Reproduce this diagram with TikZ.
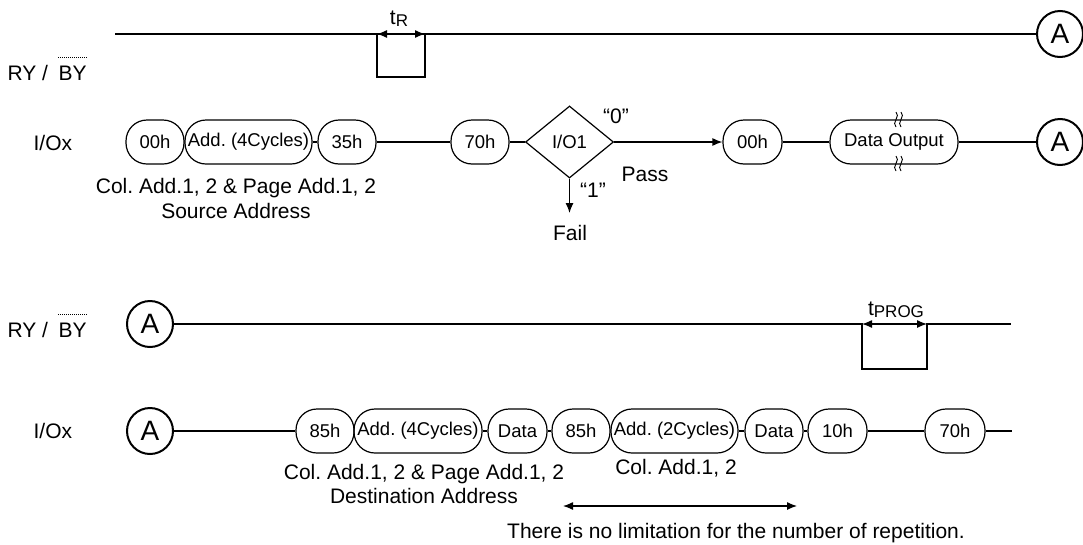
\documentclass[tikz,border=0pt]{standalone}
\usepackage{fontspec}
\setmainfont{Liberation Sans}
\usetikzlibrary{arrows.meta,shapes.geometric,positioning}
\frenchspacing

\tikzset{
  pill/.style={draw, rounded corners=21pt, minimum height=44pt, inner sep=0pt, font=\fontsize{18.5}{20}\selectfont},
  conn/.style={draw, circle, line width=2pt, minimum size=46pt, inner sep=0pt, font=\fontsize{28}{28}\selectfont},
  lbl/.style={inner sep=0pt, font=\fontsize{21}{25}\selectfont},
}

\begin{document}
\begin{tikzpicture}[x=1pt, y=-1pt, line width=1.2pt, >={Latex[length=10pt,width=8pt]}]
    \useasboundingbox (0,0) rectangle (1083,544);
    % signal names
    \node[lbl, anchor=west] (ry1) at (7,73) {RY /};
    \node[lbl, anchor=west] (by1) at (58,73) {BY};
    \draw[line width=0.6pt, dash pattern=on 1.2pt off 0.8pt] ([yshift=8pt]by1.north west) -- ([yshift=8pt]by1.north east);
    \node[lbl, anchor=west] (io1) at (33,143) {I/Ox};
    \node[lbl, anchor=west] (ry2) at (7,330) {RY /};
    \node[lbl, anchor=west] (by2) at (58,330) {BY};
    \draw[line width=0.6pt, dash pattern=on 1.2pt off 0.8pt] ([yshift=8pt]by2.north west) -- ([yshift=8pt]by2.north east);
    \node[lbl, anchor=west] (io2) at (33,431) {I/Ox};

    % RY/BY, read
    \node[conn] (A0) at (1060,34) {A};
    \coordinate (rb0) at (115,34);
    \coordinate (tra) at (377,34);
    \coordinate (trb) at (425,34);
    \draw (rb0) -- (A0);
    \draw (tra) -- ++(0,43) -| (trb);
    \draw[<->] (tra) -- (trb);
    \node[lbl] (tr) at (399,19) {t{\fontsize{17}{17}\selectfont\raisebox{-2pt}{R}}};

    % I/Ox, read
    \node[pill, minimum width=58pt] (c00) at (155,142) {00h};
    \node[pill, minimum width=127pt] (add4a) at (248.5,142) {Add. (4Cycles)};
    \node[pill, minimum width=58pt] (h35) at (347,142) {35h};
    \node[pill, minimum width=58pt] (h70a) at (480,142) {70h};
    \node[draw, diamond, minimum width=88pt, minimum height=72pt, inner sep=0pt, font=\fontsize{18.5}{20}\selectfont] (dia) at (569.5,142) {I/O1};
    \node[pill, minimum width=59pt] (c00b) at (752.5,142) {00h};
    \node[pill, minimum width=128pt] (dout) at (894,142) {Data Output};
    \node[conn] (A1) at (1060,142) {A};
    \draw (add4a) -- (h35) -- (h70a) -- (dia);
    \draw[->] (dia) -- (c00b);
    \draw (c00b) -- (dout) -- (A1);
    \coordinate (failtip) at (569.5,213);
    \draw[->] (dia.south) -- (failtip);
    \node[lbl] (q0) at (616,116) {“0”};
    \node[lbl] (pass) at (645,174) {Pass};
    \node[lbl] (q1) at (593,190) {“1”};
    \node[lbl] (fail) at (570,233) {Fail};
    \foreach \sx in {896,901} \foreach \sy in {112,156}
        \draw[line width=0.9pt] (\sx,\sy) .. controls (\sx+5,\sy+4) and (\sx-5,\sy+11) .. (\sx,\sy+15);
    \node[lbl, align=center] (src) at (236,198) {Col. Add.1, 2 \& Page Add.1, 2\\Source Address};

    % RY/BY, program
    \node[conn] (A2) at (150,324) {A};
    \coordinate (tpa) at (862,324);
    \coordinate (tpb) at (927,324);
    \coordinate (rb3) at (1011,324);
    \draw (A2) -- (tpa) -- ++(0,45) -| (tpb) -- (rb3);
    \draw[<->] (tpa) -- (tpb);
    \node[lbl] (tprog) at (896,310) {t{\fontsize{17}{17}\selectfont\raisebox{-2pt}{PROG}}};

    % I/Ox, program
    \node[conn] (A3) at (150,431) {A};
    \node[pill, minimum width=58pt] (b85a) at (325,431) {85h};
    \node[pill, minimum width=128pt] (badd4) at (418,431) {Add. (4Cycles)};
    \node[pill, minimum width=59pt] (bdat1) at (517.5,431) {Data};
    \node[pill, minimum width=58pt] (b85b) at (581,431) {85h};
    \node[pill, minimum width=127pt] (badd2) at (674.5,431) {Add. (2Cycles)};
    \node[pill, minimum width=58pt] (bdat2) at (774,431) {Data};
    \node[pill, minimum width=59pt] (b10) at (837.5,431) {10h};
    \node[pill, minimum width=60pt] (b70) at (955,431) {70h};
    \coordinate (io3) at (1012,431);
    \draw (A3) -- (b85a);
    \draw (badd4) -- (bdat1) -- (b85b);
    \draw (badd2) -- (bdat2) -- (b10) -- (b70) -- (io3);
    \node[lbl, align=center, font=\fontsize{21}{24}\selectfont] (dst) at (424,484) {Col. Add.1, 2 \& Page Add.1, 2\\Destination Address};
    \node[lbl] (col) at (676,468) {Col. Add.1, 2};
    \coordinate (repa) at (563,506);
    \coordinate (repb) at (797,506);
    \draw[<->] (repa) -- (repb);
    \node[lbl] (rep) at (736,533) {There is no limitation for the number of repetition.};
\end{tikzpicture}
\end{document}
